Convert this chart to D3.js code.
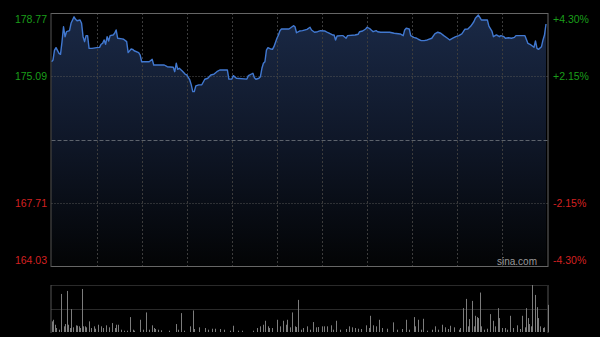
<!DOCTYPE html>
<html><head><meta charset="utf-8">
<script src="https://cdn.jsdelivr.net/npm/d3@7"></script>
<style>html,body{margin:0;padding:0;background:#000;}svg{display:block;}</style>
</head><body>
<svg id="chart" width="600" height="337"></svg>
<script>
// ---- data ----
const minutes = [0,1,2,3,5,6,7,8,9,10,12,13,15,16,17,19,20,21,22,23,24,25,27,30,32,33,34,35,36,37,38,39,41,42,43,44,47,48,50,51,53,54,55,58,59,60,65,67,68,75,77,81,82,83,84,85,87,89,90,92,93,94,95,96,98,100,102,104,106,108,110,112,117,118,120,121,123,130,131,134,135,136,138,139,140,141,142,143,144,146,147,148,150,151,152,153,158,161,162,163,165,167,170,172,173,175,177,179,182,184,187,188,189,190,193,194,196,197,202,204,205,207,209,210,212,214,216,217,219,225,228,232,234,235,236,238,239,241,243,244,246,248,250,253,255,257,259,261,263,265,267,269,271,273,274,275,277,279,281,282,284,285,286,290,291,293,294,296,298,299,301,302,304,306,308,309,315,317,319,321,322,323,324,326,327,328,329];
const prices = [175.93,176.03,176.61,176.75,176.42,176.36,177.10,177.97,177.39,177.68,177.74,178.17,178.55,178.40,178.32,178.36,178.17,177.39,177.10,177.45,177.45,176.71,176.71,176.75,176.77,176.95,177.00,177.20,176.95,177.39,177.14,177.45,177.49,177.59,177.78,177.30,177.26,177.24,177.10,176.46,176.67,176.65,176.57,176.46,176.32,175.93,175.93,176.07,175.74,175.74,175.64,175.61,175.35,175.84,175.49,175.55,175.39,175.20,175.16,174.87,174.58,174.19,174.19,174.52,174.58,174.59,174.91,174.97,175.16,175.20,175.35,175.45,175.45,174.92,174.92,175.12,174.97,174.92,175.12,175.26,175.00,174.91,174.97,175.06,175.55,175.84,175.93,176.61,176.75,176.67,176.65,176.81,177.30,177.49,177.74,177.84,177.84,178.03,177.97,177.62,177.72,177.74,177.82,177.94,177.78,177.65,177.68,177.74,177.72,177.62,177.49,177.49,177.20,177.43,177.45,177.45,177.30,177.45,177.49,177.53,177.68,177.72,177.84,177.94,177.84,177.68,177.74,177.68,177.65,177.65,177.59,177.55,177.45,177.78,177.88,177.84,177.45,177.35,177.30,177.24,177.16,177.16,177.20,177.30,177.55,177.65,177.59,177.45,177.33,177.20,177.30,177.39,177.45,177.55,177.68,177.82,177.84,178.01,178.26,178.46,178.65,178.52,178.36,178.36,178.01,177.72,177.39,177.49,177.39,177.45,177.39,177.30,177.33,177.30,177.35,177.45,177.45,177.00,176.91,176.77,177.14,176.71,176.65,176.81,177.20,177.49,178.13];
const volMinutes = [0,1,2,3,5,6,8,9,10,11,12,13,14,16,17,18,19,20,21,22,23,25,26,28,29,31,33,34,36,38,40,42,43,44,46,48,50,52,54,55,59,61,63,65,67,68,69,71,73,78,83,84,86,88,92,94,95,98,102,104,107,109,112,115,119,121,124,127,134,137,139,141,142,144,145,147,150,152,154,156,157,159,160,162,163,164,166,167,170,172,174,176,177,180,181,183,186,187,189,192,196,198,200,202,204,206,209,211,212,214,216,218,220,223,227,230,233,236,238,241,242,244,246,247,250,253,255,257,260,262,264,265,268,271,272,274,276,277,278,280,281,282,283,284,285,286,288,290,292,294,295,297,298,300,302,303,305,307,310,312,313,315,316,317,318,319,320,322,323,324,325,327,328,330];
const volumes = [107,123,73,40,23,383,57,80,413,73,40,230,47,67,63,57,40,433,57,57,47,107,40,57,33,73,57,40,67,47,90,40,73,73,23,13,13,150,23,13,123,23,197,23,67,40,30,23,17,13,80,23,190,13,57,217,30,47,40,23,33,33,30,23,13,63,13,13,13,40,57,73,113,57,40,40,123,57,113,73,123,47,197,57,50,323,23,40,57,23,100,47,50,57,57,57,67,23,113,23,30,57,47,40,33,30,67,40,163,67,57,123,40,33,97,23,30,123,23,150,57,123,23,133,13,23,57,23,73,47,30,63,47,23,40,240,333,57,130,313,57,163,150,140,397,57,23,33,180,113,57,240,140,40,40,23,163,40,67,30,163,47,240,140,80,57,473,373,250,140,57,40,47,273];
const priceTicks = [178.77, 175.09, 171.40, 167.71, 164.03];
const priceLabels = ["178.77", "175.09", "", "167.71", "164.03"];
const pctLabels = ["+4.30%", "+2.15%", "", "-2.15%", "-4.30%"];
const gridMinutes = [30,60,90,120,150,180,210,240,270,300];
const totalMinutes = 330;
const volMax = 473;

// ---- drawing ----
const svg = d3.select("#chart");
const L = 51.5, R = 547.5, T = 13, B = 266;
const VT = 285, VB = 332;
const x = d3.scaleLinear().domain([0, totalMinutes]).range([L, R]);
const y = d3.scaleLinear().domain([priceTicks[4], priceTicks[0]]).range([B, T]);
const yv = d3.scaleLinear().domain([0, volMax]).range([VB, VT]);

const defs = svg.append("defs");
const grad = defs.append("linearGradient").attr("id", "fillg")
  .attr("gradientUnits", "userSpaceOnUse").attr("x1", 0).attr("y1", T).attr("x2", 0).attr("y2", B);
grad.append("stop").attr("offset", 0).attr("stop-color", "#1a2946");
grad.append("stop").attr("offset", 0.5).attr("stop-color", "#0f1728");
grad.append("stop").attr("offset", 1).attr("stop-color", "#030405");

const data = minutes.map((m, i) => ({m, p: prices[i]}));

// area
svg.append("path").datum(data)
  .attr("d", d3.area().x(d => x(d.m)).y0(B).y1(d => y(d.p)))
  .attr("fill", "url(#fillg)");

// vertical grid
svg.append("g").selectAll("line").data(gridMinutes).join("line")
  .attr("x1", d => Math.round(x(d)) + 0.5).attr("x2", d => Math.round(x(d)) + 0.5)
  .attr("y1", T).attr("y2", B)
  .attr("stroke", "#3c3c3c").attr("stroke-width", 1).attr("stroke-dasharray", "2,2");

// horizontal grid
svg.append("g").selectAll("line").data([priceTicks[1], priceTicks[3]]).join("line")
  .attr("x1", L).attr("x2", R)
  .attr("y1", d => Math.round(y(d)) + 0.5).attr("y2", d => Math.round(y(d)) + 0.5)
  .attr("stroke", "#555").attr("stroke-width", 1).attr("stroke-dasharray", "1,2");
svg.append("line")
  .attr("x1", L).attr("x2", R)
  .attr("y1", Math.round(y(priceTicks[2])) + 0.5).attr("y2", Math.round(y(priceTicks[2])) + 0.5)
  .attr("stroke", "#5d636c").attr("stroke-width", 1).attr("stroke-dasharray", "4,2");

// line
svg.append("path").datum(data)
  .attr("d", d3.line().x(d => x(d.m)).y(d => y(d.p)))
  .attr("fill", "none").attr("stroke", "#4178d0").attr("stroke-width", 1.4)
  .attr("stroke-linejoin", "round");

// frame
svg.append("line").attr("x1", L - 0.5).attr("x2", R + 0.5).attr("y1", T + 0.5).attr("y2", T + 0.5).attr("stroke", "#666");
svg.append("line").attr("x1", L - 0.5).attr("x2", R + 0.5).attr("y1", B + 0.5).attr("y2", B + 0.5).attr("stroke", "#666");
svg.append("line").attr("x1", L - 0.5).attr("x2", L - 0.5).attr("y1", T).attr("y2", B + 1).attr("stroke", "#555");
svg.append("line").attr("x1", R + 0.5).attr("x2", R + 0.5).attr("y1", T).attr("y2", B + 1).attr("stroke", "#666");

// labels
const font = "'Liberation Sans', Arial, sans-serif";
const colorOf = i => i < 2 ? "#1a9e1a" : "#d42020";
const dyOf = i => i === 0 ? "0.95em" : (i === 4 ? "-0.2em" : "0.35em");
priceTicks.forEach((t, i) => {
  if (!priceLabels[i]) return;
  svg.append("text").attr("x", 47).attr("y", y(t)).attr("dy", dyOf(i))
    .attr("text-anchor", "end").attr("font-family", font).attr("font-size", "10.5px")
    .attr("fill", colorOf(i)).text(priceLabels[i]);
  svg.append("text").attr("x", 553).attr("y", y(t)).attr("dy", dyOf(i))
    .attr("text-anchor", "start").attr("font-family", font).attr("font-size", "10.5px")
    .attr("fill", colorOf(i)).text(pctLabels[i]);
});

svg.append("text").attr("x", 537).attr("y", 265).attr("text-anchor", "end")
  .attr("font-family", font).attr("font-size", "10px").attr("fill", "#9a9a9a").text("sina.com");

// volume panel
svg.append("line").attr("x1", L).attr("x2", R).attr("y1", VT + 0.5).attr("y2", VT + 0.5)
  .attr("stroke", "#555").attr("stroke-dasharray", "1,1");
svg.append("line").attr("x1", L).attr("x2", R).attr("y1", Math.round(yv(volMax / 2)) + 0.5).attr("y2", Math.round(yv(volMax / 2)) + 0.5)
  .attr("stroke", "#555").attr("stroke-dasharray", "1,1");
svg.append("line").attr("x1", L - 0.5).attr("x2", L - 0.5).attr("y1", VT).attr("y2", VB + 1).attr("stroke", "#555");
svg.append("line").attr("x1", R + 0.5).attr("x2", R + 0.5).attr("y1", VT).attr("y2", VB + 1).attr("stroke", "#555");

svg.append("g").selectAll("line").data(volMinutes.map((m, i) => ({m, v: volumes[i]}))).join("line")
  .attr("x1", d => Math.round(x(d.m)) + 0.5).attr("x2", d => Math.round(x(d.m)) + 0.5)
  .attr("y1", VB).attr("y2", d => yv(d.v))
  .attr("stroke", "#7c7c7c").attr("stroke-width", 1);
</script>
</body></html>
